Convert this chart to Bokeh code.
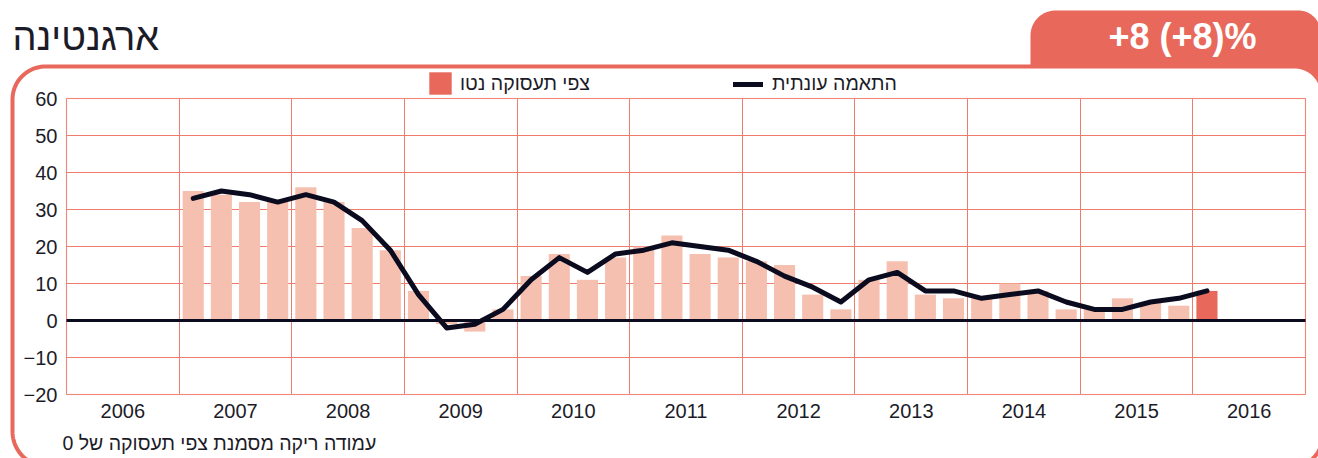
import numpy as np
from bokeh.plotting import figure
from bokeh.models import (Range1d, FixedTicker, Label, Legend, LegendItem, BoxAnnotation,
                          ColumnDataSource, Grid)
from bokeh.embed import file_html
from bokeh.resources import INLINE

# ---------------- data ----------------
year_labels = ["2006", "2007", "2008", "2009", "2010", "2011",
               "2012", "2013", "2014", "2015", "2016"]
periods = ["2007-1", "2007-2", "2007-3", "2007-4",
           "2008-1", "2008-2", "2008-3", "2008-4",
           "2009-1", "2009-2", "2009-3", "2009-4",
           "2010-1", "2010-2", "2010-3", "2010-4",
           "2011-1", "2011-2", "2011-3", "2011-4",
           "2012-1", "2012-2", "2012-3", "2012-4",
           "2013-1", "2013-2", "2013-3", "2013-4",
           "2014-1", "2014-2", "2014-3", "2014-4",
           "2015-1", "2015-2", "2015-3", "2015-4",
           "2016-1"]
net_outlook = [35, 34, 32, 32, 36, 32, 25, 19, 8, -1, -3, 3,
               12, 18, 11, 17, 20, 23, 18, 17, 16, 15, 7, 3,
               11, 16, 7, 6, 6, 10, 8, 3, 3, 6, 5, 4, 8]
seasonal = [33, 35, 34, 32, 34, 32, 27, 19, 7, -2, -1, 3,
            11, 17, 13, 18, 19, 21, 20, 19, 16, 12, 9, 5,
            11, 13, 8, 8, 6, 7, 8, 5, 3, 3, 5, 6, 8]
y_ticks = [-20, -10, 0, 10, 20, 30, 40, 50, 60]

title_text = "ארגנטינה"
badge_text = "+8 (+8)%"
legend_bar = "צפי תעסוקה נטו"
legend_line = "התאמה עונתית"
footnote = "עמודה ריקה מסמנת צפי תעסוקה של 0"

# ---------------- styles / layout ----------------
ORANGE = "#E8695B"
BAR = "#F6C0B0"
GRID = "#EE7B6C"
OUTLINE = "#F4A396"
INK = "#0B0B1F"
TEXT = "#1c1c28"
FONT = "Liberation Sans"

W, H = 1318, 458
PLOT_L, PLOT_R, PLOT_T, PLOT_B = 66, 1305, 98, 394

first_year = int(year_labels[0])
last_year = int(year_labels[-1]) + 1
y_lo, y_hi = y_ticks[0], y_ticks[-1]

ppx = (PLOT_R - PLOT_L) / (last_year - first_year)
ppy = (PLOT_B - PLOT_T) / (y_hi - y_lo)
x_range = Range1d(first_year - PLOT_L / ppx, last_year + (W - PLOT_R) / ppx)
y_range = Range1d(y_lo - (H - PLOT_B) / ppy, y_hi + PLOT_T / ppy)


def rounded_rect(x0, y0, x1, y1, r_tl, r_tr, r_br, r_bl, n=24):
    """Outline of a rounded rectangle in page pixels (y grows downward)."""
    xs, ys = [], []
    for (cx, cy, r, a0) in [(x0 + r_tl, y0 + r_tl, r_tl, np.pi),
                            (x1 - r_tr, y0 + r_tr, r_tr, 1.5 * np.pi),
                            (x1 - r_br, y1 - r_br, r_br, 0.0),
                            (x0 + r_bl, y1 - r_bl, r_bl, 0.5 * np.pi)]:
        a = np.linspace(a0, a0 + 0.5 * np.pi, n)
        xs.extend((cx + r * np.cos(a)).tolist())
        ys.extend((cy + r * np.sin(a)).tolist())
    return xs, ys


TAB = rounded_rect(1030, 10, 1320, 100, 25, 22, 0, 0)
BOX = rounded_rect(12, 66, 1322, 466, 33, 28, 30, 35)

p = figure(width=W, height=H, x_range=x_range, y_range=y_range,
           output_backend="svg", toolbar_location=None, min_border=0)
p.background_fill_color = "white"
p.border_fill_color = "white"
p.outline_line_color = None
p.extra_x_ranges = {"px": Range1d(0, W)}
p.extra_y_ranges = {"py": Range1d(H, 0)}

# ---- frame decorations (page pixel coordinates) ----
p.patch(TAB[0], TAB[1], x_range_name="px", y_range_name="py", level="image",
        fill_color=ORANGE, line_color=None)
p.patch(BOX[0], BOX[1], x_range_name="px", y_range_name="py", level="image",
        fill_color="white", line_color=ORANGE, line_width=4, line_join="round")

# ---- chart ----
xpos = [int(q.split("-")[0]) + (int(q.split("-")[1]) - 0.5) / 4 for q in periods]
src_bars = ColumnDataSource(dict(x=xpos[:-1], top=net_outlook[:-1]))
src_last = ColumnDataSource(dict(x=xpos[-1:], top=net_outlook[-1:]))
src_line = ColumnDataSource(dict(x=xpos, y=seasonal))

# plot-area border
p.add_layout(BoxAnnotation(left=first_year, right=last_year, bottom=y_lo, top=y_hi,
                           fill_alpha=0, fill_color=None, line_color=OUTLINE,
                           line_width=1.5, level="underlay"))

p.vbar(x="x", top="top", width=0.1875, source=src_bars, fill_color=BAR, line_color=None)
r_last = p.vbar(x="x", top="top", width=0.1875, source=src_last, fill_color=ORANGE,
                line_color=None)
p.segment(x0=[first_year], y0=[0], x1=[last_year], y1=[0], line_color=INK, line_width=3)
r_line = p.line(x="x", y="y", source=src_line, line_color=INK, line_width=5,
                line_join="round", line_cap="round")

# ---- axes (drawn at the edges of the plot area) ----
p.yaxis.ticker = FixedTicker(ticks=y_ticks)
p.xaxis.ticker = FixedTicker(ticks=[int(y) + 0.5 for y in year_labels])
p.xaxis.major_label_overrides = {int(y) + 0.5: y for y in year_labels}
p.xaxis.fixed_location = y_lo
p.yaxis.fixed_location = first_year
for ax in (p.xaxis[0], p.yaxis[0]):
    ax.axis_line_color = None
    ax.major_tick_line_color = None
    ax.minor_tick_line_color = None
    ax.major_tick_in = 0
    ax.major_tick_out = 0
    ax.major_label_text_font = FONT
    ax.major_label_text_font_size = "20px"
    ax.major_label_text_color = TEXT
p.yaxis.major_label_standoff = 9
p.xaxis.major_label_standoff = 9

p.xgrid.ticker = FixedTicker(ticks=list(range(first_year, last_year + 1)))
p.xgrid.grid_line_color = GRID
p.ygrid.grid_line_color = GRID
if "cross_bounds" in Grid.properties():
    p.xgrid[0].bounds = (first_year, last_year)
    p.xgrid[0].cross_bounds = (y_lo, y_hi)
    p.ygrid[0].bounds = (y_lo, y_hi)
    p.ygrid[0].cross_bounds = (first_year, last_year)
else:
    p.xgrid.visible = False
    p.ygrid.visible = False
    gx = list(range(first_year, last_year + 1))
    p.segment(x0=gx, y0=[y_lo] * len(gx), x1=gx, y1=[y_hi] * len(gx),
              line_color=GRID, line_width=1, level="underlay")
    p.segment(x0=[first_year] * len(y_ticks), y0=y_ticks, x1=[last_year] * len(y_ticks),
              y1=y_ticks, line_color=GRID, line_width=1, level="underlay")

# ---- legends ----
common = dict(orientation="horizontal", padding=0, margin=0, border_line_color=None,
              background_fill_alpha=0, label_text_font=FONT, label_text_font_size="19.5px",
              label_text_color=TEXT)
# area legend glyphs are inset by 10% on each side: 28px box -> ~22px square
leg1 = Legend(items=[LegendItem(label=legend_bar, renderers=[r_last])],
              location=(426, H - 97), glyph_width=28, glyph_height=28,
              label_standoff=6, **common)
leg2 = Legend(items=[LegendItem(label=legend_line, renderers=[r_line])],
              location=(733, H - 95), glyph_width=30, glyph_height=22,
              label_standoff=9, **common)
p.add_layout(leg1)
p.add_layout(leg2)

# ---- texts ----
p.add_layout(Label(x=12, y=36, x_range_name="px", y_range_name="py", text=title_text,
                   text_font=FONT, text_font_size="38px", text_color=TEXT,
                   text_baseline="alphabetic", text_align="left"))
p.add_layout(Label(x=1182, y=36, x_range_name="px", y_range_name="py", text=badge_text,
                   text_font=FONT, text_font_size="36px", text_font_style="bold",
                   text_color="white", text_baseline="alphabetic", text_align="center"))
p.add_layout(Label(x=62, y=442, x_range_name="px", y_range_name="py", text=footnote,
                   text_font=FONT, text_font_size="19.5px", text_color=TEXT,
                   text_baseline="alphabetic", text_align="left"))

open("out.html", "w").write(file_html(p, INLINE))
